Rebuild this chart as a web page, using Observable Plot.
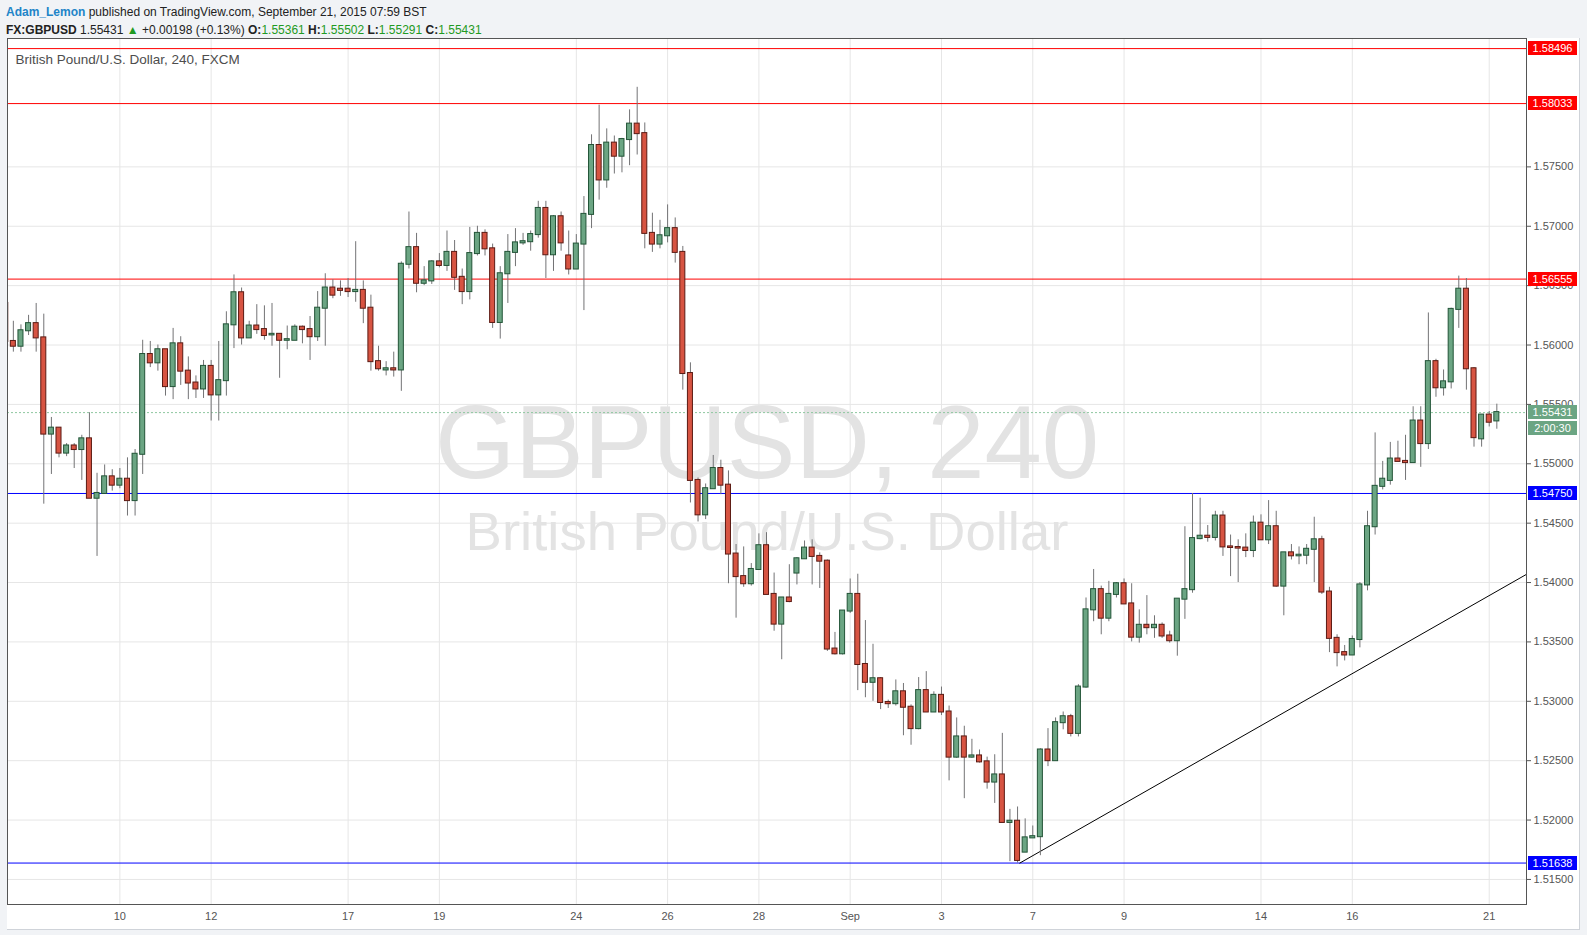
<!DOCTYPE html>
<html><head><meta charset="utf-8">
<script src="https://cdn.jsdelivr.net/npm/d3@7"></script>
<script src="https://cdn.jsdelivr.net/npm/@observablehq/plot@0.6"></script>
<style>
body{margin:0;background:#f1f3f6;font-family:"Liberation Sans",Arial,sans-serif;}
#wrap{position:relative;width:1587px;height:935px;overflow:hidden;}
#panel{position:absolute;left:7px;top:38px;width:1572px;height:891px;background:#fff;border-right:1px solid #cfd3d9;border-bottom:1px solid #cfd3d9;}
#chart{position:absolute;left:0;top:0;}
.hdr{position:absolute;left:6px;font-size:12px;color:#222;white-space:nowrap;}
.g{color:#1f9a22;}
.lbl{position:absolute;left:1528px;width:49px;height:14px;line-height:14px;font-size:11px;color:#fff;text-align:center;}
</style></head>
<body><div id="wrap">
<div id="panel"></div>
<div class="hdr" style="top:5px"><span style="color:#2184c8;font-weight:bold">Adam_Lemon</span> published on TradingView.com, September 21, 2015 07:59 BST</div>
<div class="hdr" style="top:23px"><b>FX:GBPUSD</b> 1.55431 <span class="g">&#9650;</span> +0.00198 (+0.13%) <b>O:</b><span class="g">1.55361</span> <b>H:</b><span class="g">1.55502</span> <b>L:</b><span class="g">1.55291</span> <b>C:</b><span class="g">1.55431</span></div>
<div id="chart"></div>
</div>
<script>
// 4-hour candles, index 0 = first visible bar
const O = [1.5635,1.5603,1.5599,1.5612,1.5618,1.5606,1.5525,1.5530,1.5509,1.5515,1.5512,1.5521,1.5471,1.5475,1.5489,1.5482,1.5487,1.5469,1.5508,1.5592,
1.5585,1.5596,1.5565,1.5601,1.5578,1.5568,1.5563,1.5582,1.5558,1.5570,1.5617,1.5644,1.5606,1.5616,1.5613,1.56085,1.5609,1.5604,1.5604,1.5615,
1.5613,1.5607,1.5631,1.5648,1.5647,1.5647,1.5645,1.5646,1.5631,1.5586,1.5579,1.5580,1.5579,1.5668,1.5682,1.5652,1.5654,1.5670,1.5667,1.5678,
1.5657,1.5645,1.5677,1.5694,1.5681,1.5619,1.5660,1.5678,1.5686,1.5687,1.5693,1.5715,1.5676,1.5708,1.5675,1.5664,1.5685,1.5710,1.5768,1.5739,
1.5770,1.5759,1.5773,1.5786,1.5778,1.5694,1.5685,1.5692,1.5698,1.5678,1.5576,1.5486,1.5457,1.5479,1.5496,1.5482,1.5424,1.5405,1.5399,1.5411,
1.5431,1.5390,1.5365,1.5387,1.5408,1.5420,1.5429,1.5422,1.5418,1.5344,1.5340,1.5376,1.5390,1.5331,1.5316,1.5319,1.5299,1.5298,1.5308,1.5295,
1.5277,1.5309,1.5291,1.5305,1.5291,1.5253,1.5270,1.5253,1.5254,1.5249,1.5232,1.5238,1.5198,1.5199,1.5173,1.5185,1.5186,1.5259,1.5250,1.5282,
1.5287,1.5273,1.5312,1.5377,1.5394,1.5370,1.5390,1.5399,1.5382,1.5354,1.5364,1.5362,1.5364,1.5355,1.5351,1.5386,1.5394,1.5437,1.5439,1.5438,
1.5456,1.5430,1.54295,1.5429,1.5427,1.5450,1.5436,1.5447,1.5397,1.5425,1.54225,1.5423,1.5428,1.5436,1.5392,1.5353,1.5341,1.5339,1.5352,1.5398,
1.5447,1.5481,1.5486,1.5504,1.5502,1.5501,1.5536,1.5517,1.5586,1.5564,1.5569,1.5630,1.5647,1.5580,1.5521,1.5541,1.55361];
const H = [1.5640,1.5620,1.5617,1.5625,1.5635,1.5626,1.5539,1.5530,1.5517,1.5517,1.5524,1.5543,1.5492,1.5499,1.5495,1.5496,1.5505,1.5512,1.5604,1.5603,
1.5600,1.5596,1.5614,1.5607,1.5590,1.5574,1.5587,1.5587,1.5603,1.5628,1.5659,1.5648,1.5620,1.5634,1.5633,1.5635,1.5609,1.5616,1.5617,1.5616,
1.5624,1.5645,1.5660,1.5655,1.5654,1.5656,1.5687,1.5654,1.5642,1.5599,1.5586,1.5594,1.5670,1.5712,1.5694,1.5666,1.5671,1.5677,1.5696,1.5688,
1.5664,1.5699,1.5700,1.5697,1.5685,1.5666,1.5693,1.5698,1.5694,1.5696,1.5721,1.5721,1.5709,1.5712,1.5696,1.5693,1.5725,1.5777,1.5802,1.5782,
1.5776,1.5774,1.5798,1.5817,1.5787,1.5711,1.5705,1.5718,1.5707,1.5683,1.5585,1.5488,1.5483,1.5507,1.5503,1.5494,1.5432,1.5430,1.5416,1.5441,
1.5442,1.5408,1.5387,1.5415,1.5421,1.5435,1.5436,1.5425,1.5419,1.5358,1.5376,1.5403,1.5407,1.5368,1.5348,1.5320,1.5301,1.5318,1.5315,1.5297,
1.5320,1.5325,1.5308,1.5312,1.5296,1.5286,1.5279,1.5268,1.5259,1.5253,1.5255,1.5273,1.5209,1.5211,1.5201,1.5195,1.5260,1.5277,1.5286,1.5291,
1.5289,1.5314,1.5387,1.5411,1.5397,1.5401,1.5400,1.5403,1.5399,1.5377,1.5389,1.5372,1.5366,1.5359,1.5386,1.5447,1.5475,1.5471,1.5448,1.5460,
1.5460,1.5440,1.5436,1.5441,1.5456,1.5457,1.5469,1.5460,1.5425,1.5432,1.5430,1.5432,1.5455,1.5439,1.5396,1.5356,1.5347,1.5355,1.5400,1.5460,
1.5526,1.5502,1.5518,1.5519,1.5524,1.5548,1.5548,1.5627,1.5588,1.5579,1.5631,1.5658,1.5656,1.5581,1.5541,1.5544,1.55502];
const L = [1.5598,1.5594,1.5594,1.5608,1.5594,1.5466,1.5491,1.5505,1.5506,1.5496,1.5486,1.5471,1.5422,1.5475,1.5477,1.5479,1.5456,1.5456,1.5491,1.5581,
1.5578,1.5557,1.5554,1.5566,1.5554,1.5555,1.5555,1.5536,1.5536,1.5557,1.5597,1.5600,1.5606,1.5609,1.5604,1.5599,1.5572,1.5596,1.5604,1.5601,
1.5587,1.5603,1.5599,1.5639,1.5641,1.5640,1.5636,1.5618,1.5578,1.5578,1.5574,1.5573,1.5561,1.5664,1.5644,1.5650,1.5651,1.5665,1.5662,1.5646,
1.5634,1.5638,1.5675,1.5675,1.5614,1.5605,1.5635,1.5666,1.5684,1.5679,1.5690,1.5656,1.5662,1.5679,1.5659,1.5664,1.5629,1.5698,1.5722,1.5732,
1.5744,1.5745,1.5751,1.5760,1.5681,1.5678,1.5681,1.5686,1.5669,1.5562,1.5467,1.5451,1.5453,1.5479,1.5474,1.5399,1.5370,1.5396,1.5397,1.5411,
1.5390,1.5359,1.5335,1.5383,1.5398,1.5420,1.5398,1.5395,1.5342,1.5339,1.5339,1.5374,1.5309,1.5303,1.5300,1.5293,1.5294,1.5296,1.5271,1.5263,
1.5276,1.5291,1.5291,1.5288,1.5233,1.5252,1.5218,1.5252,1.5248,1.5226,1.5214,1.5198,1.5165,1.51638,1.5173,1.5185,1.5170,1.5245,1.5250,1.5276,
1.5270,1.5270,1.5311,1.5367,1.5356,1.5367,1.5387,1.5382,1.5350,1.5349,1.5356,1.5353,1.5353,1.5349,1.5338,1.5369,1.5391,1.5436,1.5434,1.5435,
1.5422,1.5405,1.5400,1.5421,1.5421,1.5436,1.5432,1.5396,1.5372,1.5419,1.5415,1.5415,1.5400,1.5390,1.5341,1.5329,1.5334,1.5339,1.5345,1.5393,
1.5440,1.5478,1.5482,1.5502,1.5486,1.5501,1.5497,1.5512,1.5556,1.5557,1.5563,1.5614,1.5562,1.5514,1.5514,1.5531,1.55291];
const C = [1.5603,1.5599,1.5612,1.5618,1.5606,1.5525,1.5530,1.5509,1.5515,1.5512,1.5521,1.5471,1.5475,1.5489,1.5482,1.5487,1.5469,1.5508,1.5592,1.5585,
1.5596,1.5565,1.5601,1.5578,1.5568,1.5563,1.5582,1.5558,1.5570,1.5617,1.5644,1.5606,1.5616,1.5613,1.5608,1.5609,1.5604,1.56045,1.5615,1.5613,
1.5607,1.5631,1.5648,1.5642,1.5646,1.5645,1.5646,1.5631,1.5586,1.5580,1.5580,1.5579,1.5668,1.5682,1.5652,1.5654,1.5670,1.5667,1.5678,1.5657,
1.5645,1.5677,1.5694,1.5681,1.5619,1.5660,1.5678,1.5686,1.5687,1.5693,1.5715,1.5676,1.5708,1.5686,1.5664,1.5685,1.5710,1.5768,1.5739,1.5770,
1.5759,1.5773,1.5786,1.5778,1.5694,1.5685,1.5692,1.5698,1.5678,1.5576,1.5486,1.5457,1.5479,1.5496,1.5482,1.5424,1.5405,1.5399,1.5411,1.5431,
1.5390,1.5365,1.5387,1.5384,1.5420,1.5429,1.5422,1.5418,1.5344,1.5340,1.5376,1.5390,1.5331,1.5316,1.5319,1.5299,1.5298,1.5308,1.5295,1.5277,
1.5309,1.5291,1.5305,1.5291,1.5253,1.5270,1.5253,1.5254,1.5249,1.5232,1.5238,1.5198,1.5199,1.5166,1.5185,1.5186,1.5259,1.5250,1.5282,1.5287,
1.5273,1.5312,1.5377,1.5394,1.5370,1.5390,1.5399,1.5382,1.5354,1.5364,1.5362,1.5364,1.5355,1.5351,1.5386,1.5394,1.5437,1.5439,1.5438,1.5456,
1.5430,1.54295,1.5429,1.5427,1.5450,1.5436,1.5447,1.5397,1.5425,1.54225,1.5423,1.5428,1.5436,1.5392,1.5353,1.5341,1.5339,1.5352,1.5398,1.5447,
1.5481,1.5487,1.5504,1.5502,1.5501,1.5536,1.5517,1.5586,1.5564,1.5569,1.5630,1.5647,1.5580,1.5522,1.5541,1.5535,1.55431];

// first bar index of each labelled day
const dayIdx = [15,27,45,57,75,87,99,111,123,135,147,165,177,195];
const dayLbl = ["10","12","17","19","24","26","28","Sep","3","7","9","14","16","21"];
const priceTicks = [1.515,1.52,1.525,1.53,1.535,1.54,1.545,1.55,1.555,1.56,1.565,1.57,1.575];
const redLevels = [1.58496,1.58033,1.56555];
const blueLevels = [1.54750,1.51638];
const lastPrice = 1.55431;
const trendIdx = [133.3,199.9];
const trendPrice = [1.51638,1.54069];

const candles = O.map((o,i)=>({i, open:o, high:H[i], low:L[i], close:C[i]}));
const up = candles.filter(d=>d.close>=d.open);
const dn = candles.filter(d=>d.close<d.open);
const trend = trendIdx.map((i,k)=>({i, p:trendPrice[k]}));

const plot = Plot.plot({
  width:1587, height:935,
  marginLeft:7, marginRight:61, marginTop:38, marginBottom:31,
  style:{background:"transparent", fontFamily:"Liberation Sans, Arial, sans-serif", fontSize:"11px", color:"#555"},
  x:{domain:[0.23,199.9], ticks:dayIdx, tickFormat:d=>dayLbl[dayIdx.indexOf(d)], tickSize:0, tickPadding:8, label:null},
  y:{domain:[1.51289,1.58581], axis:"right", ticks:priceTicks, tickFormat:d=>d.toFixed(5), tickSize:4, tickPadding:3, label:null},
  marks:[
    Plot.ruleY(priceTicks,{stroke:"#e6e6e6"}),
    Plot.ruleX(dayIdx,{stroke:"#e6e6e6"}),
    Plot.text(["GBPUSD, 240"],{frameAnchor:"middle", dy:-26, fontSize:103, fill:"#e3e3e3", fontFamily:"Liberation Sans, Arial, sans-serif"}),
    Plot.text(["British Pound/U.S. Dollar"],{frameAnchor:"middle", dy:61, fontSize:54.5, fill:"#e3e3e3", fontFamily:"Liberation Sans, Arial, sans-serif"}),
    Plot.text(["British Pound/U.S. Dollar, 240, FXCM"],{frameAnchor:"top-left", textAnchor:"start", lineAnchor:"top", dx:8, dy:16, fontSize:13.5, fill:"#4d4d4d"}),
    Plot.ruleY([lastPrice],{stroke:"#8fc7a1", strokeDasharray:"2,2"}),
    Plot.ruleY(redLevels,{stroke:"#ff0000"}),
    Plot.ruleY(blueLevels,{stroke:"#0000ff"}),
    Plot.line(trend,{x:"i", y:"p", stroke:"#000", strokeWidth:1}),
    Plot.ruleX(candles,{x:"i", y1:"low", y2:"high", stroke:"#737375", clip:true}),
    Plot.rect(up,{x1:d=>d.i-0.33, x2:d=>d.i+0.33, y1:"open", y2:"close", insetTop:-0.5, insetBottom:-0.5, fill:"#6ba583", stroke:"#225437", clip:true}),
    Plot.rect(dn,{x1:d=>d.i-0.33, x2:d=>d.i+0.33, y1:"open", y2:"close", insetTop:-0.5, insetBottom:-0.5, fill:"#d75442", stroke:"#5b1a13", clip:true}),
    Plot.frame({stroke:"#555"})
  ]
});
document.getElementById("chart").appendChild(plot);

const ys = plot.scale("y");
const wrap = document.getElementById("wrap");
function addLabel(text, value, bg, off){
  const d = document.createElement("div");
  d.className = "lbl";
  d.style.background = bg;
  d.style.top = (ys.apply(value) - 7 + (off||0)) + "px";
  d.textContent = text;
  wrap.appendChild(d);
}
redLevels.forEach(v=>addLabel(v.toFixed(5), v, "#ff0000"));
blueLevels.forEach(v=>addLabel(v.toFixed(5), v, "#0000ff"));
addLabel(lastPrice.toFixed(5), lastPrice, "#6ba583");
addLabel("2:00:30", lastPrice, "#6ba583", 16);
</script>
</body></html>
